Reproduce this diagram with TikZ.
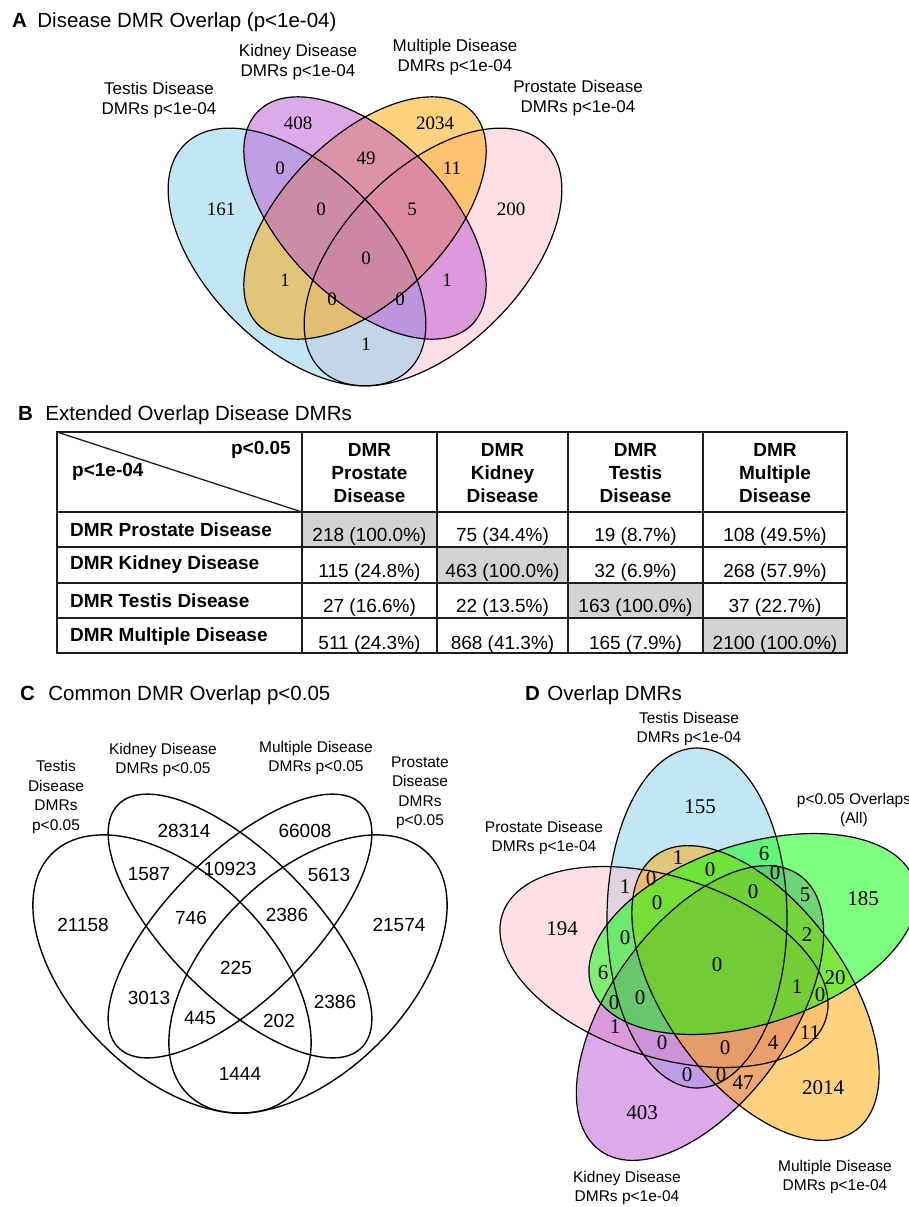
\documentclass[tikz,border=0pt]{standalone}
\usepackage{fontspec}
\setmainfont{Liberation Sans}
\newfontfamily\timesfont{Liberation Serif}
\usetikzlibrary{positioning}
\definecolor{skyblue}{RGB}{135,206,235}
\definecolor{orchidm}{RGB}{186,85,211}
\definecolor{vorange}{RGB}{255,165,0}
\definecolor{vpink}{RGB}{255,192,203}
\definecolor{vgreen}{RGB}{0,255,0}
\definecolor{cellgray}{RGB}{211,211,211}
\definecolor{rule}{RGB}{30,30,30}
\tikzset{panel/.style={font=\fontsize{20.5}{24}\selectfont\bfseries,inner sep=0pt,anchor=west}}
\tikzset{title/.style={font=\fontsize{20.5}{24}\selectfont,inner sep=0pt}}
\tikzset{setname/.style={font=\fontsize{17}{20}\selectfont,align=center,inner sep=0pt}}
\tikzset{setsmall/.style={font=\fontsize{15.5}{19.5}\selectfont,align=center,inner sep=0pt}}
\tikzset{anum/.style={font=\timesfont\fontsize{19}{19}\selectfont,inner sep=0pt}}
\tikzset{dnum/.style={font=\timesfont\fontsize{21}{21}\selectfont,inner sep=0pt}}
\tikzset{cnum/.style={font=\fontsize{19}{19}\selectfont,inner sep=0pt}}
\tikzset{cell/.style={font=\fontsize{19}{23}\selectfont,inner sep=0pt}}
\tikzset{head/.style={font=\fontsize{19}{23}\selectfont\bfseries,align=center,inner sep=0pt}}
\tikzset{setfill/.style={fill=#1,fill opacity=0.5}}
\tikzset{setline/.style={draw=black,line width=1.2pt}}
\tikzset{tbl/.style={draw=rule,line width=2pt}}
% centre x / centre y / rotation / a / b / colour  (fill order matters)
\def\quadA{433/257/45/159/89/vpink, 297/257/-45/159/89/skyblue, 365/218/45/151/81/vorange, 365/218/-45/151/81/orchidm}
\def\quadC{172/974/-45/170/99/white, 240/926/-45/172/72/white, 240/926/45/172/72/white, 308/974/45/170/99/white}
\def\pentaD{697/918/90/skyblue, 664/967/-18/vpink, 700/1013/54/orchidm, 755.5/993/-54/vorange, 753/934/18/vgreen}

\begin{document}
\begin{tikzpicture}[x=1pt,y=-1pt]
  \useasboundingbox (0,0) rectangle (909,1207);

  % A
  \node[panel](A) at (12,20) {A};
  \node[title,base right=10pt of A](Atitle) {Disease DMR Overlap (p<1e-04)};
  \foreach \cx/\cy/\r/\a/\b/\c in \quadA
    \fill[setfill=\c,rotate around={\r:(\cx,\cy)}] (\cx,\cy) ellipse [x radius=\a,y radius=\b];
  \foreach \cx/\cy/\r/\a/\b/\c in \quadA
    \draw[setline,rotate around={\r:(\cx,\cy)}] (\cx,\cy) ellipse [x radius=\a,y radius=\b];
  \node[setname](aT) at (159,100) {Testis Disease\\DMRs p<1e-04};
  \node[setname](aK) at (298,62) {Kidney Disease\\DMRs p<1e-04};
  \node[setname](aM) at (455,57) {Multiple Disease\\DMRs p<1e-04};
  \node[setname](aP) at (578,98) {Prostate Disease\\DMRs p<1e-04};
  \foreach \x/\y/\t [count=\i] in {298/123/408, 435/123/2034, 221/209/161, 280/168/0,
      366/158/49, 452/168/11, 511/209/200, 321/209/0, 412/209/5, 366/258/0,
      285/280/1, 447/280/1, 332/299/0, 400/299/0, 366/344/1}
    \node[anum](an\i) at (\x,\y) {\t};

  % B
  \node[panel](B) at (18,413) {B};
  \node[title,base right=12pt of B](Btitle) {Extended Overlap Disease DMRs};
  \fill[cellgray] (302,512) rectangle (437,547) (437,547) rectangle (568,583)
    (568,583) rectangle (703,618) (703,618) rectangle (847,653);
  \draw[rule,line width=1.3pt] (57,432) -- (302,512);
  \foreach \x in {302,437,568,703} \draw[tbl] (\x,432) -- (\x,653);
  \foreach \y in {512,547,583,618} \draw[tbl] (57,\y) -- (847,\y);
  \draw[tbl] (57,432) rectangle (847,653);
  \node[head,anchor=east](p05) at (291,450) {p<0.05};
  \node[head,anchor=west](p104) at (72,472) {p<1e-04};
  \node[head](hP) at (369.5,473) {DMR\\Prostate\\Disease};
  \node[head](hK) at (502.5,473) {DMR\\Kidney\\Disease};
  \node[head](hT) at (635.5,473) {DMR\\Testis\\Disease};
  \node[head](hM) at (775,473) {DMR\\Multiple\\Disease};
  \node[head,anchor=west](rP) at (70,530) {DMR Prostate Disease};
  \node[head,anchor=west](rK) at (70,565) {DMR Kidney Disease};
  \node[head,anchor=west](rT) at (70,601) {DMR Testis Disease};
  \node[head,anchor=west](rM) at (70,637) {DMR Multiple Disease};
  \foreach \x/\t [count=\j] in {369.5/218 (100.0\%), 502.5/75 (34.4\%), 635.5/19 (8.7\%), 775/108 (49.5\%)}
    \node[cell](r1c\j) at (\x,537) {\t};
  \foreach \x/\t [count=\j] in {369.5/115 (24.8\%), 502.5/463 (100.0\%), 635.5/32 (6.9\%), 775/268 (57.9\%)}
    \node[cell](r2c\j) at (\x,573) {\t};
  \foreach \x/\t [count=\j] in {369.5/27 (16.6\%), 502.5/22 (13.5\%), 635.5/163 (100.0\%), 775/37 (22.7\%)}
    \node[cell](r3c\j) at (\x,608) {\t};
  \foreach \x/\t [count=\j] in {369.5/511 (24.3\%), 502.5/868 (41.3\%), 635.5/165 (7.9\%), 775/2100 (100.0\%)}
    \node[cell](r4c\j) at (\x,645) {\t};

  % C
  \node[panel](C) at (20,693) {C};
  \node[title,base right=13pt of C](Ctitle) {Common DMR Overlap p<0.05};
  \foreach \cx/\cy/\r/\a/\b/\c in \quadC
    \draw[setline,line width=1.4pt,rotate around={\r:(\cx,\cy)}] (\cx,\cy) ellipse [x radius=\a,y radius=\b];
  \node[setsmall](cT) at (56,797) {Testis\\Disease\\DMRs\\p<0.05};
  \node[setsmall](cK) at (163,760) {Kidney Disease\\DMRs p<0.05};
  \node[setsmall](cM) at (316,758) {Multiple Disease\\DMRs p<0.05};
  \node[setsmall](cP) at (420,793) {Prostate\\Disease\\DMRs\\p<0.05};
  \foreach \x/\y/\t [count=\i] in {184/831/28314, 305/831/66008, 149/874/1587, 230/869/10923,
      329/875/5613, 191/918/746, 287/915/2386, 83/925/21158, 399/925/21574, 236/968/225,
      149/998/3013, 335/1002/2386, 200/1018/445, 279/1021/202, 240/1074/1444}
    \node[cnum](cn\i) at (\x,\y) {\t};

  % D
  \node[panel](D) at (525,693) {D};
  \node[title,base right=7pt of D](Dtitle) {Overlap DMRs};
  \foreach \cx/\cy/\r/\c in \pentaD
    \fill[setfill=\c,rotate around={\r:(\cx,\cy)}] (\cx,\cy) ellipse [x radius=170,y radius=90];
  \foreach \cx/\cy/\r/\c in \pentaD
    \draw[setline,rotate around={\r:(\cx,\cy)}] (\cx,\cy) ellipse [x radius=170,y radius=90];
  \node[setsmall](dT) at (689,729) {Testis Disease\\DMRs p<1e-04};
  \node[setsmall](dA) at (854,810) {p<0.05 Overlaps\\(All)};
  \node[setsmall](dP) at (544,838) {Prostate Disease\\DMRs p<1e-04};
  \node[setsmall](dK) at (627,1188) {Kidney Disease\\DMRs p<1e-04};
  \node[setsmall](dM) at (835,1177) {Multiple Disease\\DMRs p<1e-04};
  \foreach \x/\y/\t [count=\i] in {700/807/155, 863/899/185, 562/929/194, 823/1088/2014, 642/1113/403,
      678/858/1, 764/854/6, 651/879/0, 625/887/1, 710/870/0, 775/873/0, 657/903/0, 753/892/0,
      805/895/5, 625/938/0, 807/935/2, 717/965/0, 603/973/6, 835/978/20, 797/987/1, 614/1003/0,
      640/998/0, 820/995/0, 615/1027/1, 810/1033/11, 662/1043/0, 725/1048/0, 773/1043/4,
      687/1075/0, 721/1075/0, 743/1083/47}
    \node[dnum](dn\i) at (\x,\y) {\t};
\end{tikzpicture}
\end{document}
